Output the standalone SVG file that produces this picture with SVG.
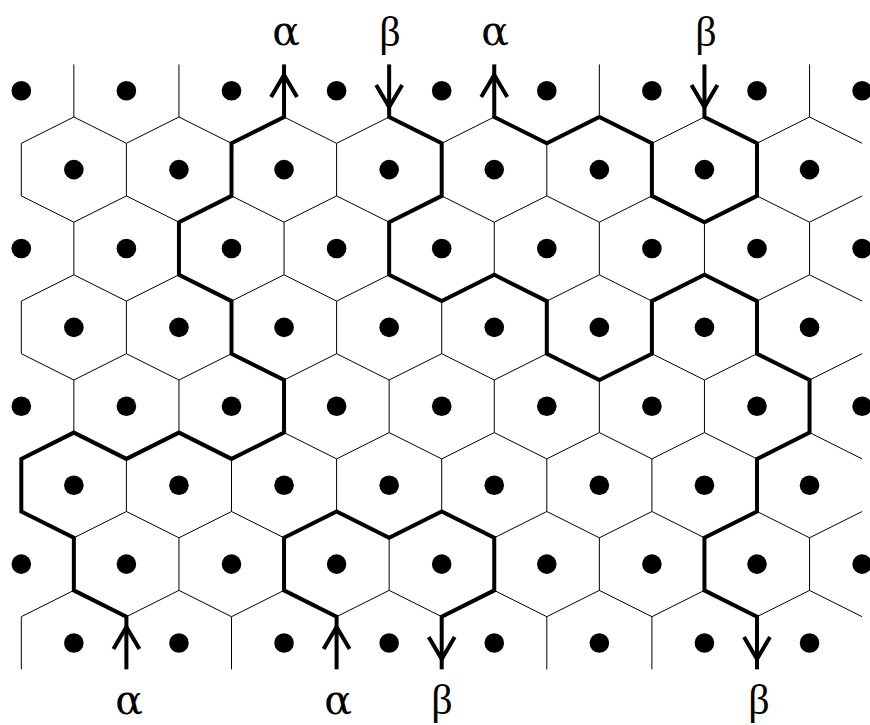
<svg xmlns="http://www.w3.org/2000/svg" xmlns:xlink="http://www.w3.org/1999/xlink" width="870" height="725" viewBox="0 0 870 725">
<style>
.thin{fill:none;stroke:#000;stroke-width:1}
.bold{fill:none;stroke:#000;stroke-width:4;stroke-linejoin:miter}
.dot{fill:#000}
.a{font-family:"DejaVu Serif","Liberation Serif",serif;font-size:41px;fill:#000;text-anchor:middle}
.b{font-family:"Liberation Serif","DejaVu Serif",serif;font-size:42px;fill:#000;text-anchor:middle}
</style>
<defs>
<g id="rowE">
<circle class="dot" cx="21.3" cy="0" r="9.8"/><circle class="dot" cx="126.4" cy="0" r="9.8"/><circle class="dot" cx="231.5" cy="0" r="9.8"/><circle class="dot" cx="336.6" cy="0" r="9.8"/><circle class="dot" cx="441.7" cy="0" r="9.8"/><circle class="dot" cx="546.8" cy="0" r="9.8"/><circle class="dot" cx="651.9" cy="0" r="9.8"/><circle class="dot" cx="757" cy="0" r="9.8"/><circle class="dot" cx="862.1" cy="0" r="9.8"/>
</g>
<g id="rowO">
<circle class="dot" cx="73.85" cy="0" r="9.8"/><circle class="dot" cx="178.95" cy="0" r="9.8"/><circle class="dot" cx="284.05" cy="0" r="9.8"/><circle class="dot" cx="389.15" cy="0" r="9.8"/><circle class="dot" cx="494.25" cy="0" r="9.8"/><circle class="dot" cx="599.35" cy="0" r="9.8"/><circle class="dot" cx="704.45" cy="0" r="9.8"/><circle class="dot" cx="809.55" cy="0" r="9.8"/>
</g>
<path id="up" class="bold" d="M-13,22 L0,0 L13,22"/>
<path id="dn" class="bold" d="M-13,-22 L0,0 L13,-22"/>
</defs>

<g id="lattice" class="thin">
<path d="M73.85,64.4v52.6m105.1,-52.6v52.6m105.1,-52.6v52.6m105.1,-52.6v52.6m105.1,-52.6v52.6m105.1,-52.6v52.6m105.1,-52.6v52.6m105.1,-52.6v52.6"/>
<path d="M21.3,143.3v52.6m105.1,-52.6v52.6m105.1,-52.6v52.6m105.1,-52.6v52.6m105.1,-52.6v52.6m105.1,-52.6v52.6m105.1,-52.6v52.6m105.1,-52.6v52.6"/>
<path d="M73.85,222.2v52.6m105.1,-52.6v52.6m105.1,-52.6v52.6m105.1,-52.6v52.6m105.1,-52.6v52.6m105.1,-52.6v52.6m105.1,-52.6v52.6m105.1,-52.6v52.6"/>
<path d="M21.3,301.1v52.6m105.1,-52.6v52.6m105.1,-52.6v52.6m105.1,-52.6v52.6m105.1,-52.6v52.6m105.1,-52.6v52.6m105.1,-52.6v52.6m105.1,-52.6v52.6"/>
<path d="M73.85,380v52.6m105.1,-52.6v52.6m105.1,-52.6v52.6m105.1,-52.6v52.6m105.1,-52.6v52.6m105.1,-52.6v52.6m105.1,-52.6v52.6m105.1,-52.6v52.6"/>
<path d="M21.3,458.9v52.6m105.1,-52.6v52.6m105.1,-52.6v52.6m105.1,-52.6v52.6m105.1,-52.6v52.6m105.1,-52.6v52.6m105.1,-52.6v52.6m105.1,-52.6v52.6"/>
<path d="M73.85,537.8v52.6m105.1,-52.6v52.6m105.1,-52.6v52.6m105.1,-52.6v52.6m105.1,-52.6v52.6m105.1,-52.6v52.6m105.1,-52.6v52.6m105.1,-52.6v52.6"/>
<path d="M21.3,616.7v52.6m105.1,-52.6v52.6m105.1,-52.6v52.6m105.1,-52.6v52.6m105.1,-52.6v52.6m105.1,-52.6v52.6m105.1,-52.6v52.6m105.1,-52.6v52.6"/>
<path d="M21.3,143.3l52.55,-26.3 52.55,26.3 52.55,-26.3 52.55,26.3 52.55,-26.3 52.55,26.3 52.55,-26.3 52.55,26.3 52.55,-26.3 52.55,26.3 52.55,-26.3 52.55,26.3 52.55,-26.3 52.55,26.3 52.55,-26.3 52.55,26.3"/>
<path d="M21.3,195.9l52.55,26.3 52.55,-26.3 52.55,26.3 52.55,-26.3 52.55,26.3 52.55,-26.3 52.55,26.3 52.55,-26.3 52.55,26.3 52.55,-26.3 52.55,26.3 52.55,-26.3 52.55,26.3 52.55,-26.3 52.55,26.3 52.55,-26.3"/>
<path d="M21.3,301.1l52.55,-26.3 52.55,26.3 52.55,-26.3 52.55,26.3 52.55,-26.3 52.55,26.3 52.55,-26.3 52.55,26.3 52.55,-26.3 52.55,26.3 52.55,-26.3 52.55,26.3 52.55,-26.3 52.55,26.3 52.55,-26.3 52.55,26.3"/>
<path d="M21.3,353.7l52.55,26.3 52.55,-26.3 52.55,26.3 52.55,-26.3 52.55,26.3 52.55,-26.3 52.55,26.3 52.55,-26.3 52.55,26.3 52.55,-26.3 52.55,26.3 52.55,-26.3 52.55,26.3 52.55,-26.3 52.55,26.3 52.55,-26.3"/>
<path d="M21.3,458.9l52.55,-26.3 52.55,26.3 52.55,-26.3 52.55,26.3 52.55,-26.3 52.55,26.3 52.55,-26.3 52.55,26.3 52.55,-26.3 52.55,26.3 52.55,-26.3 52.55,26.3 52.55,-26.3 52.55,26.3 52.55,-26.3 52.55,26.3"/>
<path d="M21.3,511.5l52.55,26.3 52.55,-26.3 52.55,26.3 52.55,-26.3 52.55,26.3 52.55,-26.3 52.55,26.3 52.55,-26.3 52.55,26.3 52.55,-26.3 52.55,26.3 52.55,-26.3 52.55,26.3 52.55,-26.3 52.55,26.3 52.55,-26.3"/>
<path d="M21.3,616.7l52.55,-26.3 52.55,26.3 52.55,-26.3 52.55,26.3 52.55,-26.3 52.55,26.3 52.55,-26.3 52.55,26.3 52.55,-26.3 52.55,26.3 52.55,-26.3 52.55,26.3 52.55,-26.3 52.55,26.3 52.55,-26.3 52.55,26.3"/>
</g>

<g id="sites">
<use xlink:href="#rowE" href="#rowE" y="90.7"/>
<use xlink:href="#rowO" href="#rowO" y="169.6"/>
<use xlink:href="#rowE" href="#rowE" y="248.5"/>
<use xlink:href="#rowO" href="#rowO" y="327.4"/>
<use xlink:href="#rowE" href="#rowE" y="406.3"/>
<use xlink:href="#rowO" href="#rowO" y="485.2"/>
<use xlink:href="#rowE" href="#rowE" y="564.1"/>
<use xlink:href="#rowO" href="#rowO" y="643"/>
</g>

<g id="connectors">
<path id="pathA" class="bold" d="M284.05,64.4 V117 L231.5,143.3 V195.9 L178.95,222.2 V274.8 L231.5,301.1 V353.7 L284.05,380 V432.6 L231.5,458.9 L178.95,432.6 L126.4,458.9 L73.85,432.6 L21.3,458.9 V511.5 L73.85,537.8 V590.4 L126.4,616.7 V669.3"/>
<path id="pathB" class="bold" d="M389.15,64.4 V117 L441.7,143.3 V195.9 L389.15,222.2 V274.8 L441.7,301.1 L494.25,274.8 L546.8,301.1 V353.7 L599.35,380 L651.9,353.7 V301.1 L704.45,274.8 L757,301.1 V353.7 L809.55,380 V432.6 L757,458.9 V511.5 L704.45,537.8 V590.4 L757,616.7 V669.3"/>
<path id="pathC" class="bold" d="M494.25,64.4 V117 L546.8,143.3 L599.35,117 L651.9,143.3 V195.9 L704.45,222.2 L757,195.9 V143.3 L704.45,117 V64.4"/>
<path id="pathD" class="bold" d="M336.6,669.3 V616.7 L284.05,590.4 V537.8 L336.6,511.5 L389.15,537.8 L441.7,511.5 L494.25,537.8 V590.4 L441.7,616.7 V669.3"/>
</g>

<g id="arrowheads">
<use xlink:href="#up" href="#up" x="284.05" y="75"/>
<use xlink:href="#dn" href="#dn" x="389.15" y="107"/>
<use xlink:href="#up" href="#up" x="494.25" y="75"/>
<use xlink:href="#dn" href="#dn" x="704.45" y="107"/>
<use xlink:href="#up" href="#up" x="126.4" y="627"/>
<use xlink:href="#up" href="#up" x="336.6" y="627"/>
<use xlink:href="#dn" href="#dn" x="441.7" y="659"/>
<use xlink:href="#dn" href="#dn" x="757" y="659"/>
</g>

<g id="labels">
<text class="a" x="286" y="45">α</text>
<text class="b" x="390" y="46">β</text>
<text class="a" x="495" y="45">α</text>
<text class="b" x="706" y="46">β</text>
<text class="a" x="129" y="714">α</text>
<text class="a" x="338" y="714">α</text>
<text class="b" x="442" y="714">β</text>
<text class="b" x="759" y="714">β</text>
</g>
</svg>
